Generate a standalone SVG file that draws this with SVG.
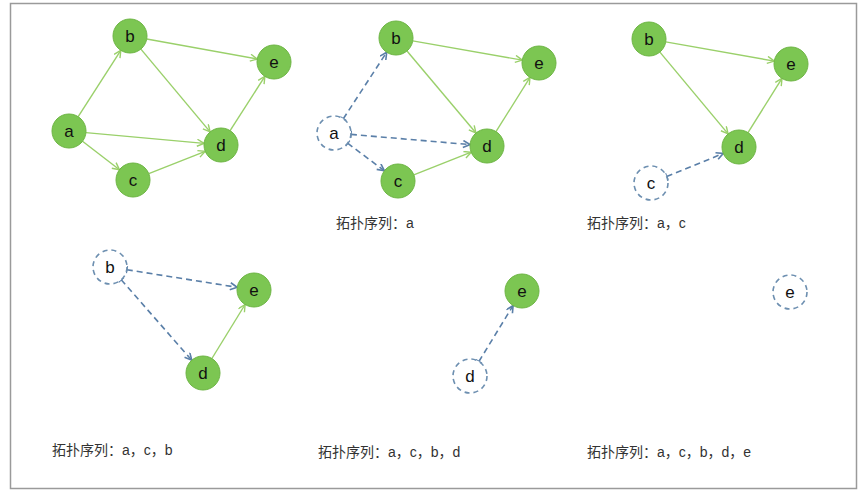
<svg xmlns="http://www.w3.org/2000/svg" width="862" height="492" viewBox="0 0 862 492">
<defs>
<style>
.n{fill:#7cc652;stroke:#6db544;stroke-width:1}
.dn{fill:#ffffff;stroke:#6d8fb0;stroke-width:1.6;stroke-dasharray:5,4}
.t{font-family:"Liberation Sans",Arial,sans-serif;font-size:17px;fill:#111;text-anchor:middle}
.g{stroke:#9ad06a;stroke-width:1.4;fill:none;marker-end:url(#ga)}
.b{stroke:#5a7fa8;stroke-width:1.6;fill:none;stroke-dasharray:6,4;marker-end:url(#ba);marker-start:url(#bt)}
.lb{font-family:"Liberation Sans","Noto Sans CJK SC",sans-serif;font-size:14px;fill:#333}
</style>
<marker id="ga" markerUnits="userSpaceOnUse" markerWidth="10" markerHeight="10" refX="8" refY="4" orient="auto" viewBox="0 0 10 10"><path d="M1,0.5 L8,4 L1,7.5" fill="none" stroke="#9ad06a" stroke-width="1.4"/></marker>
<marker id="ba" markerUnits="userSpaceOnUse" markerWidth="10" markerHeight="10" refX="8" refY="4" orient="auto" viewBox="0 0 10 10"><path d="M1,0.5 L8,4 L1,7.5" fill="none" stroke="#5a7fa8" stroke-width="1.6"/></marker>
<marker id="bt" markerUnits="userSpaceOnUse" markerWidth="4" markerHeight="10" refX="1" refY="4" orient="auto" viewBox="0 0 4 10"><path d="M1,0.5 L1,7.5" fill="none" stroke="#5a7fa8" stroke-width="1.6"/></marker>
</defs>
<rect x="0" y="0" width="862" height="492" fill="#ffffff"/>
<rect x="10.5" y="3.5" width="846" height="485" fill="none" stroke="#9a9a9a" stroke-width="1.5"/>
<g id="connectors">
<line class="g" x1="78.2" y1="116.7" x2="120.8" y2="50.3"/>
<line class="g" x1="85.9" y1="132.6" x2="204.1" y2="143.4"/>
<line class="g" x1="82.5" y1="141.3" x2="119.5" y2="169.7"/>
<line class="g" x1="146.7" y1="39" x2="257.3" y2="59"/>
<line class="g" x1="140.9" y1="49.1" x2="210.1" y2="131.9"/>
<line class="g" x1="148.8" y1="173.7" x2="205.2" y2="151.3"/>
<line class="g" x1="230.1" y1="130.7" x2="264.9" y2="76.3"/>
<line class="b" x1="343.3" y1="118.8" x2="386.7" y2="52.2"/>
<line class="b" x1="350.9" y1="134.4" x2="470.1" y2="144.6"/>
<line class="b" x1="347.6" y1="143.2" x2="384.4" y2="170.8"/>
<line class="g" x1="412.7" y1="40.9" x2="522.3" y2="60.1"/>
<line class="g" x1="407" y1="51" x2="476" y2="133"/>
<line class="g" x1="413.8" y1="174.8" x2="471.2" y2="152.2"/>
<line class="g" x1="496" y1="131.6" x2="530" y2="77.4"/>
<line class="g" x1="665.7" y1="41.9" x2="774.3" y2="61.1"/>
<line class="g" x1="659.9" y1="52.1" x2="728.1" y2="133.9"/>
<line class="g" x1="748" y1="132.6" x2="782" y2="78.4"/>
<line class="b" x1="666.7" y1="176.6" x2="723.3" y2="153.4"/>
<line class="b" x1="126.8" y1="269.7" x2="237.2" y2="287.3"/>
<line class="b" x1="121.2" y1="279.8" x2="191.8" y2="360.2"/>
<line class="g" x1="211.9" y1="358.5" x2="245.1" y2="304.5"/>
<line class="b" x1="478.9" y1="361.5" x2="513.1" y2="305.5"/>
</g>
<g id="p1a"><circle class="n" cx="69" cy="131" r="17"/><text class="t" x="69" y="137">a</text></g>
<g id="p1b"><circle class="n" cx="130" cy="36" r="17"/><text class="t" x="130" y="42">b</text></g>
<g id="p1c"><circle class="n" cx="133" cy="180" r="17"/><text class="t" x="133" y="186">c</text></g>
<g id="p1d"><circle class="n" cx="221" cy="145" r="17"/><text class="t" x="221" y="151">d</text></g>
<g id="p1e"><circle class="n" cx="274" cy="62" r="17"/><text class="t" x="274" y="68">e</text></g>
<g id="p2a"><circle class="dn" cx="334" cy="133" r="17"/><text class="t" x="334" y="139">a</text></g>
<g id="p2b"><circle class="n" cx="396" cy="38" r="17"/><text class="t" x="396" y="44">b</text></g>
<g id="p2c"><circle class="n" cx="398" cy="181" r="17"/><text class="t" x="398" y="187">c</text></g>
<g id="p2d"><circle class="n" cx="487" cy="146" r="17"/><text class="t" x="487" y="152">d</text></g>
<g id="p2e"><circle class="n" cx="539" cy="63" r="17"/><text class="t" x="539" y="69">e</text></g>
<g id="p3b"><circle class="n" cx="649" cy="39" r="17"/><text class="t" x="649" y="45">b</text></g>
<g id="p3c"><circle class="dn" cx="651" cy="183" r="17"/><text class="t" x="651" y="189">c</text></g>
<g id="p3d"><circle class="n" cx="739" cy="147" r="17"/><text class="t" x="739" y="153">d</text></g>
<g id="p3e"><circle class="n" cx="791" cy="64" r="17"/><text class="t" x="791" y="70">e</text></g>
<g id="p4b"><circle class="dn" cx="110" cy="267" r="17"/><text class="t" x="110" y="273">b</text></g>
<g id="p4d"><circle class="n" cx="203" cy="373" r="17"/><text class="t" x="203" y="379">d</text></g>
<g id="p4e"><circle class="n" cx="254" cy="290" r="17"/><text class="t" x="254" y="296">e</text></g>
<g id="p5d"><circle class="dn" cx="470" cy="376" r="17"/><text class="t" x="470" y="382">d</text></g>
<g id="p5e"><circle class="n" cx="522" cy="291" r="17"/><text class="t" x="522" y="297">e</text></g>
<g id="p6e"><circle class="dn" cx="790" cy="292" r="17"/><text class="t" x="790" y="298">e</text></g>
<g id="labels">
<text class="lb" x="336" y="228">拓扑序列：a</text>
<text class="lb" x="587" y="228">拓扑序列：a，c</text>
<text class="lb" x="52" y="455">拓扑序列：a，c，b</text>
<text class="lb" x="318" y="457">拓扑序列：a，c，b，d</text>
<text class="lb" x="587" y="457">拓扑序列：a，c，b，d，e</text>
</g>
</svg>
